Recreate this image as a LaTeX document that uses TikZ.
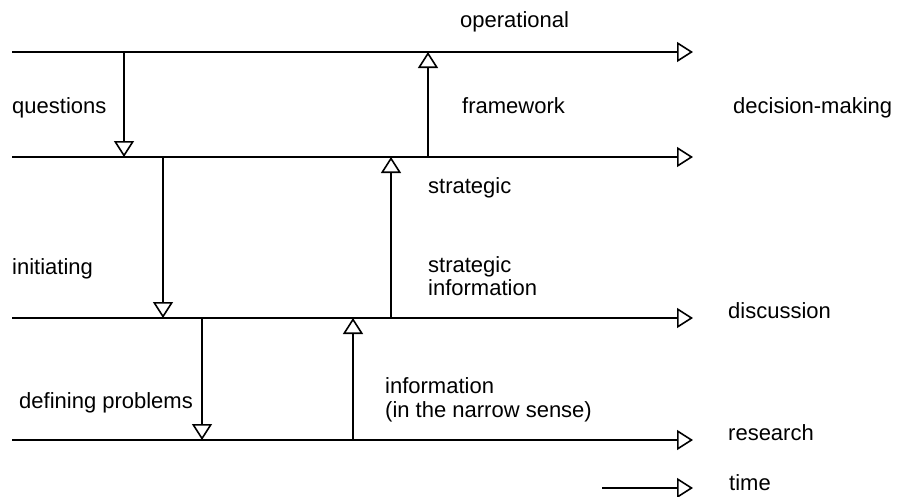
\documentclass[tikz,border=0pt]{standalone}
\usepackage{fontspec}
\setmainfont{Liberation Sans}
\usetikzlibrary{arrows.meta}
\begin{document}
\begin{tikzpicture}[x=1pt,y=-1pt,
  flow/.style={line width=1.6pt,-{Triangle[open,length=16pt,width=20pt,line width=1.6pt]}},
  lbl/.style={anchor=base west,inner sep=0pt,font=\fontsize{22}{26}\selectfont},
  stack/.style={lbl,align=left}]
\useasboundingbox (0,0) rectangle (903,496);
% horizontal lines
\coordinate (l1s) at (12,52);  \coordinate (l1e) at (693,52);
\coordinate (l2s) at (12,157); \coordinate (l2e) at (693,157);
\coordinate (l3s) at (12,318); \coordinate (l3e) at (693,318);
\coordinate (l4s) at (12,440); \coordinate (l4e) at (693,440);
\coordinate (ts) at (602,488); \coordinate (te) at (693,488);
\draw[flow] (l1s) -- (l1e);
\draw[flow] (l2s) -- (l2e);
\draw[flow] (l3s) -- (l3e);
\draw[flow] (l4s) -- (l4e);
\draw[flow] (ts) -- (te);
% vertical arrows
\coordinate (a1) at (124,52);  \coordinate (a1e) at (124,157);
\coordinate (b1) at (428,157); \coordinate (b1e) at (428,52);
\coordinate (a2) at (163,157); \coordinate (a2e) at (163,318);
\coordinate (b2) at (391,318); \coordinate (b2e) at (391,157);
\coordinate (a3) at (202,318); \coordinate (a3e) at (202,440);
\coordinate (b3) at (353,440); \coordinate (b3e) at (353,318);
\draw[flow] (a1) -- (a1e);
\draw[flow] (b1) -- (b1e);
\draw[flow] (a2) -- (a2e);
\draw[flow] (b2) -- (b2e);
\draw[flow] (a3) -- (a3e);
\draw[flow] (b3) -- (b3e);
% labels
\node[lbl] (op) at (460,27) {operational};
\node[lbl] (qu) at (12,113) {questions};
\node[lbl] (fw) at (462,113) {framework};
\node[lbl] (dm) at (733,113) {decision-making};
\node[lbl] (st) at (428,193) {strategic};
\node[lbl] (in) at (12,274) {initiating};
\node[lbl] (si1) at (428,272) {strategic};
\node[lbl] (si2) at (428,295) {information};
\node[lbl] (di) at (728,318) {discussion};
\node[lbl] (ip1) at (385,393) {information};
\node[lbl] (ip2) at (385,417) {(in the narrow sense)};
\node[lbl] (dp) at (19,408) {defining problems};
\node[lbl] (re) at (728,440) {research};
\node[lbl] (ti) at (729,490) {time};
\end{tikzpicture}
\end{document}
